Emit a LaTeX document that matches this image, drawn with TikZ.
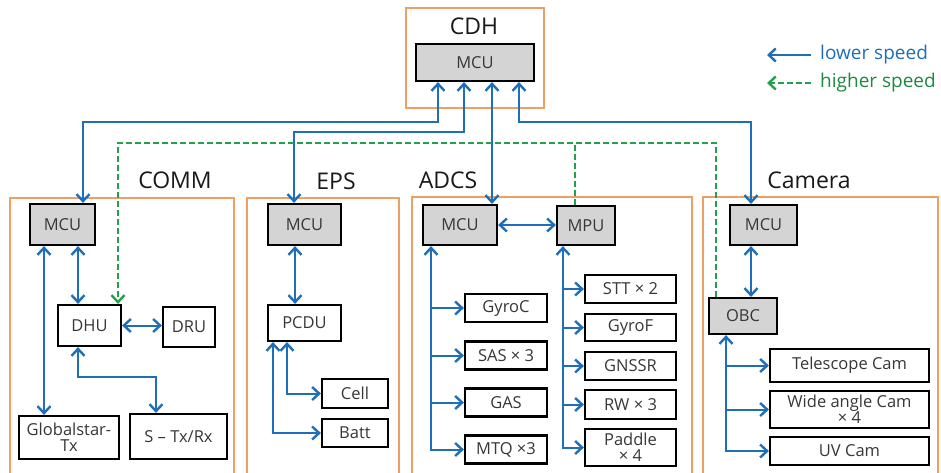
\documentclass[tikz,border=0pt]{standalone}
\usepackage{fontspec}
\setmainfont{Open Sans}
\usetikzlibrary{arrows.meta}
\definecolor{lowblue}{RGB}{30,110,185}
\definecolor{highgreen}{RGB}{35,160,75}
\definecolor{grporange}{RGB}{238,160,100}
\definecolor{unitgray}{RGB}{212,212,212}
\definecolor{txtgray}{RGB}{55,55,55}
\tikzset{
	grp/.style={draw=grporange,line width=1.5pt,fill=white},
	unit/.style={draw=black,line width=2.2pt,fill=white,text=txtgray,align=center,inner sep=1pt,font=\fontsize{16.5}{16}\selectfont},
	proc/.style={unit,fill=unitgray},
	lo/.style={draw=lowblue,line width=2pt},
	hi/.style={draw=highgreen,line width=1.8pt,dash pattern=on 6pt off 3pt},
	grplabel/.style={font=\fontsize{23}{25}\selectfont,text=black!90},
	leglabel/.style={anchor=west,inner sep=0pt,font=\fontsize{19}{21}\selectfont},
	>={Straight Barb[length=7pt,width=13pt,line width=2.4pt]}
}
\begin{document}
\begin{tikzpicture}[x=1pt,y=-1pt]
		\clip (0,0) rectangle (941,472);
		\draw[grp] (406,8) rectangle (544,108);
		\draw[grp] (10,198) rectangle (234,480);
		\draw[grp] (247,198) rectangle (399,480);
		\draw[grp] (412,197) rectangle (692,480);
		\draw[grp] (703,197) rectangle (938,480);
		\node[grplabel] (cdhlabel) at (474,26) {CDH};
		\node[grplabel] (commlabel) at (175,180) {COMM};
		\node[grplabel] (epslabel) at (336,181) {EPS};
		\node[grplabel] (adcslabel) at (448,180) {ADCS};
		\node[grplabel] (camlabel) at (809,180) {Camera};
		\node[proc,minimum width=118pt,minimum height=37pt] (cdhmcu) at (475,62.5) {MCU};
		\node[proc,minimum width=65pt,minimum height=41pt] (commmcu) at (62.5,224.5) {MCU};
		\node[unit,minimum width=63pt,minimum height=41pt] (dhu) at (89.5,325.5) {DHU};
		\node[unit,minimum width=52pt,minimum height=40pt] (dru) at (189,327) {DRU};
		\node[unit,minimum width=100pt,minimum height=43pt] (gstx) at (69,437.5) {Globalstar-\\Tx};
		\node[unit,minimum width=97pt,minimum height=45pt] (stx) at (178.5,436.5) {S – Tx/Rx};
		\node[proc,minimum width=73pt,minimum height=41pt] (epsmcu) at (304.5,224.5) {MCU};
		\node[unit,minimum width=73pt,minimum height=36pt] (pcdu) at (304.5,323) {PCDU};
		\node[unit,minimum width=66pt,minimum height=29pt] (cell) at (355,393.5) {Cell};
		\node[unit,minimum width=66pt,minimum height=28pt] (batt) at (355,433) {Batt};
		\node[proc,minimum width=74pt,minimum height=40pt] (adcsmcu) at (460,225) {MCU};
		\node[proc,minimum width=58pt,minimum height=39pt] (mpu) at (586,225.5) {MPU};
		\foreach \n/\t/\y in {gyroc/GyroC/308,sas/SAS × 3/355.5,gas/GAS/402.5,mtq/MTQ ×3/449.5}{
		\node[unit,minimum width=82pt,minimum height=28pt] (\n) at (506,\y) {\t};}
		\foreach \n/\t/\y/\h in {stt/STT × 2/289/28,gyrof/GyroF/327.5/27,gnssr/GNSSR/366/28,rw/RW × 3/404.5/29,paddle/{Paddle\\× 4}/447.5/37}{
		\node[unit,minimum width=91pt,minimum height=\h pt] (\n) at (630.5,\y) {\t};}
		\node[proc,minimum width=67pt,minimum height=40pt] (cammcu) at (763.5,225) {MCU};
		\node[proc,minimum width=68pt,minimum height=36pt] (obc) at (743,316) {OBC};
		\foreach \n/\t/\y/\h in {tel/Telescope Cam/365.5/33,wide/{Wide angle Cam\\× 4}/409.5/37,uv/UV Cam/451/28}{
		\node[unit,minimum width=159pt,minimum height=\h pt] (\n) at (849.5,\y) {\t};}
		\node[leglabel,text=lowblue] (leglo) at (820,55) {lower speed};
		\node[leglabel,text=highgreen!85!black] (leghi) at (820,83) {higher speed};
		\draw[lo,->] ([xshift=-9pt]leglo.west) -- ++(-44,0);
		\draw[hi,->] ([xshift=-9pt]leghi.west) -- ++(-44,0);
		\draw[lo,<->] ([xshift=-37pt]cdhmcu.south) -- ++(0,40) -| ([xshift=20.5pt]commmcu.north);
		\draw[lo,<->] ([xshift=-11pt]cdhmcu.south) -- ++(0,50) -| ([xshift=-10.5pt]epsmcu.north);
		\draw[lo,<->] ([xshift=17pt]cdhmcu.south) -- ([xshift=32pt]adcsmcu.north);
		\draw[lo,<->] ([xshift=44pt]cdhmcu.south) -- ++(0,40) -| ([xshift=-12.5pt]cammcu.north);
		\draw[hi,->] ([xshift=-27pt]obc.north) -- ++(0,-154) -| ([xshift=28.5pt]dhu.north);
		\draw[hi] ([xshift=-11pt]mpu.north) -- ++(0,-62);
		\draw[lo,<->] ([xshift=-18.5pt]commmcu.south) -- ([xshift=-25pt]gstx.north);
		\draw[lo,<->] ([xshift=15.5pt]commmcu.south) -- ([xshift=-11.5pt]dhu.north);
		\draw[lo,<->] (dhu.east) -- (dhu.east -| dru.west);
		\draw[lo,<->] ([xshift=-11.5pt]dhu.south) -- ++(0,30) -| ([xshift=-22.5pt]stx.north);
		\draw[lo,<->] ([xshift=-9.5pt]epsmcu.south) -- ([xshift=-9.5pt]pcdu.north);
		\draw[lo,<->] ([xshift=-31.5pt]pcdu.south) |- (batt.west);
		\draw[lo,<->] ([xshift=-17.5pt]pcdu.south) |- (cell.west);
		\draw[lo,<->] (adcsmcu.east) -- (adcsmcu.east -| mpu.west);
		\coordinate (adcsbus) at ([xshift=-29pt]adcsmcu.south);
		\draw[lo,<->] (adcsbus) |- (mtq.west);
		\foreach \n in {gyroc,sas,gas}{
		\draw[lo,->] (adcsbus |- \n.west) -- (\n.west);}
		\coordinate (mpubus) at ([xshift=-23pt]mpu.south);
		\draw[lo,<->] (mpubus) |- (paddle.west);
		\foreach \n in {stt,gyrof,gnssr,rw}{
		\draw[lo,->] (mpubus |- \n.west) -- (\n.west);}
		\draw[lo,<->] ([xshift=-12.5pt]cammcu.south) -- ([xshift=8pt]obc.north);
		\coordinate (obcbus) at ([xshift=-17pt]obc.south);
		\draw[lo,<->] (obcbus) |- (uv.west);
		\foreach \n in {tel,wide}{
		\draw[lo,->] (obcbus |- \n.west) -- (\n.west);}
\end{tikzpicture}
\end{document}
